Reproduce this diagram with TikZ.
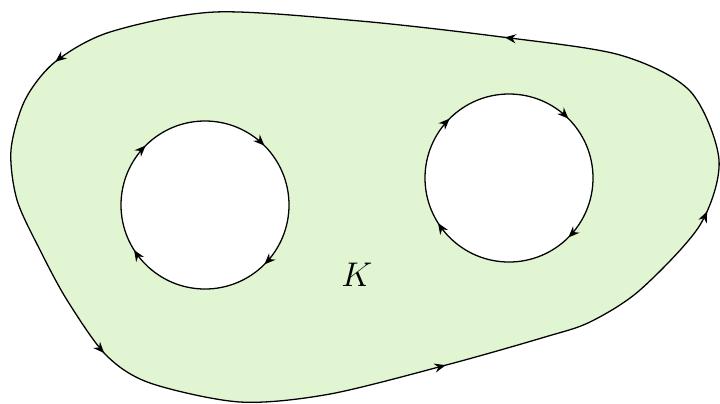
\documentclass[tikz,border=0pt]{standalone}
\usetikzlibrary{arrows.meta,decorations.markings}
\definecolor{regiongreen}{RGB}{225,245,210}
\begin{document}
\begin{tikzpicture}[x=0.35pt,y=0.35pt,boundary/.style={line width=0.45pt},tip/.style={postaction={decorate,decoration={markings,mark=at position #1 with {\arrow{Stealth[length=3.9pt,width=3.2pt]}}}}}]
\useasboundingbox (0,0) rectangle (720,403);
\coordinate (L) at (205,198);
\coordinate (R) at (509,225);
\path[fill=regiongreen,even odd rule] plot[smooth cycle] coordinates {(360,382) (215,391) (110,371) (55,341) (25,303) (11,253) (17,203) (40,153) (67,103) (106,48) (150,20) (240,1) (330,9) (450,39) (545,66) (590,81) (640,113) (700,178) (719,243) (690,312) (620,348) (502,366)} (L) circle[radius=84] (R) circle[radius=84];
\draw[boundary,tip=0.095,tip=0.279,tip=0.479,tip=0.655,tip=0.837] plot[smooth cycle] coordinates {(360,382) (215,391) (110,371) (55,341) (25,303) (11,253) (17,203) (40,153) (67,103) (106,48) (150,20) (240,1) (330,9) (450,39) (545,66) (590,81) (640,113) (700,178) (719,243) (690,312) (620,348) (502,366)};
\draw[boundary,tip=0.125,tip=0.375,tip=0.625,tip=0.91] (L) ++(180:84) arc[start angle=180,end angle=-180,radius=84];
\draw[boundary,tip=0.125,tip=0.375,tip=0.625,tip=0.91] (R) ++(180:84) arc[start angle=180,end angle=-180,radius=84];
\node[font=\large] (k) at (357,128) {$K$};
\end{tikzpicture}
\end{document}
